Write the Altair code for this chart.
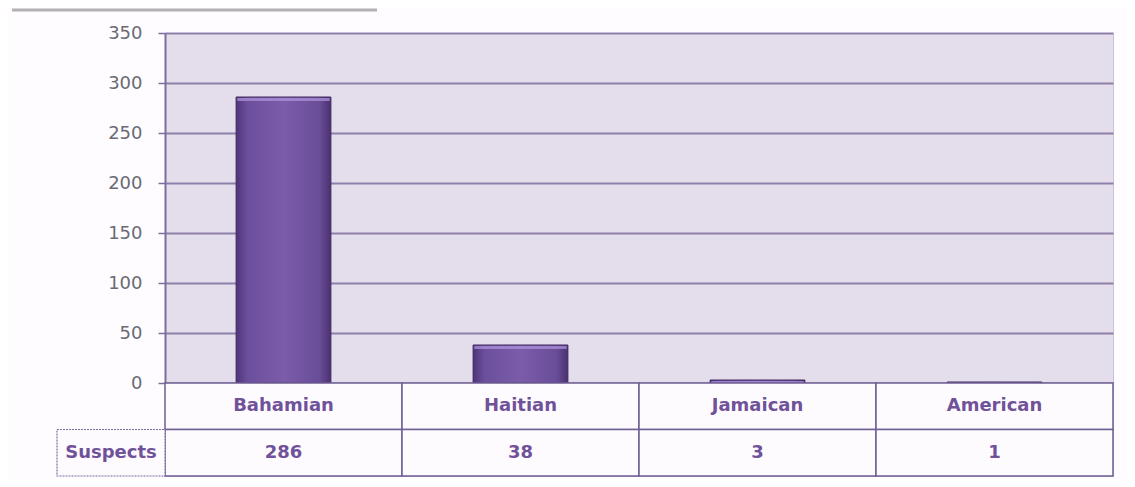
import altair as alt
import pandas as pd

categories = ["Bahamian", "Haitian", "Jamaican", "American"]
suspects = [286, 38, 3, 1]
row_names = ["Nationality", "Suspects"]
y_ticks = [0, 50, 100, 150, 200, 250, 300, 350]

bars_df = pd.DataFrame({"category": categories, "value": suspects})
table_df = pd.DataFrame(
    {"category": categories * 2,
     "row": [row_names[0]] * len(categories) + [row_names[1]] * len(categories),
     "label": categories + [str(v) for v in suspects]}
)
rowlabel_df = pd.DataFrame({"row": [row_names[1]], "label": ["Suspects"]})

W, H_PLOT, H_TABLE = 948, 350, 93
purple_text = "#70529a"
grid_col = "#8576a3"
FONT = "DejaVu Sans"

x_scale = alt.Scale(domain=categories, paddingInner=0, paddingOuter=0)
x_enc = alt.X("category:N", sort=categories, axis=None, scale=x_scale)

bar_fill = alt.Gradient(
    gradient="linear", x1=0, y1=0, x2=1, y2=0,
    stops=[alt.GradientStop(color="#4f3478", offset=0),
           alt.GradientStop(color="#6c4f9c", offset=0.12),
           alt.GradientStop(color="#7a5cab", offset=0.5),
           alt.GradientStop(color="#6a4d98", offset=0.88),
           alt.GradientStop(color="#4a316f", offset=1)])

y_scale = alt.Scale(domain=[0, 350], range=[H_PLOT, 0], nice=False)
y_axis = alt.Axis(values=y_ticks, title=None, grid=True,
                  gridColor=grid_col, gridWidth=2, gridOpacity=0.9,
                  domainColor="#7d6c9e", domainWidth=2,
                  tickColor="#7d6c9e", tickSize=7, tickWidth=1.5,
                  labelFont=FONT, labelFontSize=18,
                  labelColor="#6a6a74", labelPadding=16)
y_bar = alt.Y("value:Q", scale=y_scale, axis=y_axis)

bars = alt.Chart(bars_df).mark_bar(
    width=alt.RelativeBandSize(0.4), fill=bar_fill,
    stroke="#3f2a63", strokeWidth=1
).encode(x=x_enc, y=y_bar)

# highlight strip at the top of each bar
tops = alt.Chart(bars_df).mark_tick(
    width=alt.RelativeBandSize(0.39), thickness=3, color="#b196dd", yOffset=2.5
).encode(x=x_enc, y=y_bar)

tab_scale = alt.Scale(domain=row_names, range=[H_PLOT, H_PLOT + H_TABLE],
                      paddingInner=0, paddingOuter=0)
y_tab = alt.Y("row:N", sort=row_names, axis=None, scale=tab_scale)

cells = alt.Chart(table_df).mark_rect(
    fill="#fefbfe", stroke="#6f5f92", strokeWidth=1.5
).encode(x=x_enc, y=y_tab)

cell_text = alt.Chart(table_df).mark_text(
    font=FONT, fontSize=18, fontWeight="bold", color=purple_text
).encode(x=alt.X("category:N", sort=categories, axis=None, scale=x_scale, bandPosition=0.5),
         y=alt.Y("row:N", sort=row_names, axis=None, scale=tab_scale, bandPosition=0.5),
         text="label:N")

row_cell = alt.Chart(rowlabel_df).mark_rect(
    fill="#fefbfe", stroke="#7d6c9e", strokeWidth=1.2, strokeDash=[2, 1]
).encode(x=alt.value(-108), x2=alt.value(0), y=y_tab)

row_text = alt.Chart(rowlabel_df).mark_text(
    font=FONT, fontSize=18, fontWeight="bold", color=purple_text, align="center"
).encode(x=alt.value(-54),
         y=alt.Y("row:N", sort=row_names, axis=None, scale=tab_scale, bandPosition=0.5),
         text="label:N")

top_rule = alt.Chart(pd.DataFrame({"a": [0]})).mark_rule(
    color="#b4b0b4", strokeWidth=3
).encode(x=alt.value(-153), x2=alt.value(212), y=alt.value(-23))

table = alt.layer(cells, cell_text, row_cell, row_text)
plot_part = alt.layer(bars, tops)

chart = alt.layer(plot_part, table, top_rule).resolve_scale(y="independent").properties(
    width=W, height=H_PLOT + H_TABLE,
    padding={"left": 157, "top": 25, "right": 14, "bottom": 3},
    autosize=alt.AutoSizeParams(type="none"),
    background="#fefcfe",
).configure_view(
    fill="#e4deec", stroke="#c9bfd8", strokeWidth=1
)

chart.save("out.html", embed_options={"renderer": "svg", "actions": False})
